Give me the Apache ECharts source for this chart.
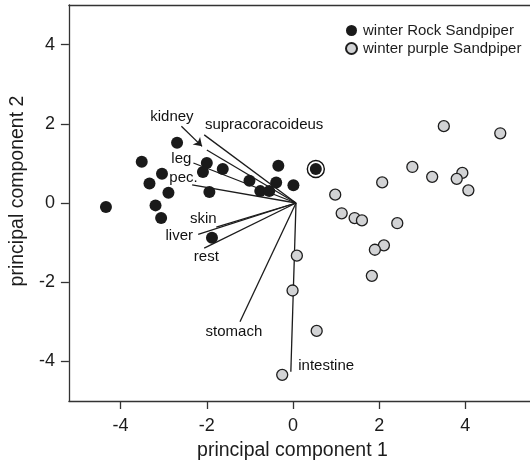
<!DOCTYPE html>
<html>
<head>
<meta charset="utf-8">
<script src="https://cdn.jsdelivr.net/npm/echarts@6/dist/echarts.min.js"></script>
<style>
html,body{margin:0;padding:0;background:#fff;}
#chart{width:530px;height:466px;}
</style>
</head>
<body>
<div id="chart"></div>
<script>
// ---- data ----
var xTicks = [-4, -2, 0, 2, 4];
var yTicks = [-4, -2, 0, 2, 4];

var rockSandpiper = [
  [-2.69, 1.52], [-3.51, 1.04], [-3.04, 0.74], [-3.33, 0.49], [-2.89, 0.26],
  [-4.34, -0.10], [-3.19, -0.06], [-3.06, -0.38], [-2.00, 1.01], [-2.09, 0.78],
  [-1.63, 0.86], [-1.94, 0.28], [-1.01, 0.56], [-0.76, 0.30], [-0.55, 0.30],
  [-0.34, 0.94], [-0.39, 0.52], [-1.88, -0.88], [0.01, 0.45], [0.53, 0.86]
];
var circledPoint = [[0.53, 0.86]];

var purpleSandpiper = [
  [3.50, 1.94], [4.81, 1.76], [2.77, 0.91], [3.23, 0.66], [3.93, 0.76],
  [3.80, 0.61], [4.07, 0.32], [2.07, 0.52], [0.98, 0.21], [1.13, -0.26],
  [1.43, -0.38], [1.60, -0.44], [2.42, -0.51], [2.11, -1.07], [1.90, -1.18],
  [1.83, -1.84], [0.09, -1.33], [-0.01, -2.21], [0.55, -3.23], [-0.25, -4.34]
];

var vectorOrigin = [0.07, 0];
var vectorNames = ['supracoracoideus', 'kidney', 'leg', 'pec.', 'skin', 'liver', 'rest', 'stomach', 'intestine'];
var vectorEnds = [
  [-2.06, 1.72], [-2.00, 1.34], [-2.31, 1.01], [-2.34, 0.46], [-1.78, -0.61],
  [-2.20, -0.79], [-2.06, -1.14], [-1.23, -3.00], [-0.05, -4.26]
];
var vectorLabelPos = [
  [-0.67, 1.97], [-2.81, 2.18], [-2.59, 1.11], [-2.54, 0.64], [-2.08, -0.40],
  [-2.64, -0.84], [-2.01, -1.37], [-1.37, -3.25], [0.77, -4.10]
];
var kidneyArrow = [[-2.59, 1.94], [-2.11, 1.43]];

// ---- chart ----
var font = '"Liberation Sans", Arial, Helvetica, sans-serif';
var ink = '#1c1c1c';
var chart = echarts.init(document.getElementById('chart'), null, {renderer: 'canvas'});

var vectorData = vectorEnds.map(function (e) { return {coords: [vectorOrigin, e]}; });
var labelData = vectorLabelPos.map(function (p, i) { return {name: vectorNames[i], value: p}; });

chart.setOption({
  animation: false,
  backgroundColor: '#ffffff',
  textStyle: {fontFamily: font},
  grid: {left: 68, right: 0, top: 5, bottom: 63, containLabel: false},
  legend: {
    orient: 'vertical',
    left: 340,
    top: 18,
    itemWidth: 11,
    itemHeight: 11,
    itemGap: 3,
    textStyle: {fontFamily: font, fontSize: 15, color: ink, padding: [0, 0, 0, 1]},
    data: ['winter Rock Sandpiper', 'winter purple Sandpiper']
  },
  xAxis: [{
    type: 'value', min: -5.2, max: 5.5, position: 'bottom',
    splitLine: {show: false},
    axisLine: {show: true, onZero: false, lineStyle: {color: '#333', width: 1.3}},
    axisTick: {show: true, length: 8, customValues: xTicks, lineStyle: {color: '#333', width: 1.3}},
    axisLabel: {show: true, customValues: xTicks, fontSize: 18, color: ink, margin: 16, fontFamily: font},
    name: 'principal component 1', nameLocation: 'middle', nameGap: 40,
    nameTextStyle: {fontSize: 19.5, color: ink, fontFamily: font, padding: [0, 14, 0, 0]}
  }, {
    type: 'value', min: -5.2, max: 5.5, position: 'top',
    splitLine: {show: false},
    axisLine: {show: true, onZero: false, lineStyle: {color: '#333', width: 1.3}},
    axisTick: {show: false}, axisLabel: {show: false}
  }],
  yAxis: [{
    type: 'value', min: -5, max: 5,
    splitLine: {show: false},
    axisLine: {show: true, onZero: false, lineStyle: {color: '#333', width: 1.3}},
    axisTick: {show: true, length: 8, customValues: yTicks, lineStyle: {color: '#333', width: 1.3}},
    axisLabel: {show: true, customValues: yTicks, fontSize: 18, color: ink, margin: 14, fontFamily: font},
    name: 'principal component 2', nameLocation: 'middle', nameGap: 22,
    nameTextStyle: {fontSize: 19.5, color: ink, fontFamily: font, padding: [0, 0, 0, 24]}
  }],
  series: [
    {
      type: 'lines', coordinateSystem: 'cartesian2d', silent: true, z: 2,
      lineStyle: {color: ink, width: 1.3, opacity: 1},
      symbol: ['none', 'none'],
      data: vectorData
    },
    {
      type: 'lines', coordinateSystem: 'cartesian2d', silent: true, z: 2,
      lineStyle: {color: ink, width: 1.3, opacity: 1},
      symbol: ['none', 'arrow'], symbolSize: 8,
      data: [{coords: kidneyArrow}]
    },
    {
      type: 'scatter', name: 'ring', silent: true, z: 3,
      symbol: 'circle', symbolSize: 17,
      itemStyle: {color: '#ffffff', borderColor: '#111', borderWidth: 1.4, opacity: 1},
      data: circledPoint
    },
    {
      type: 'scatter', name: 'winter Rock Sandpiper', z: 4,
      symbol: 'circle', symbolSize: 12,
      itemStyle: {color: '#1a1a1a', borderColor: '#1a1a1a', borderWidth: 0, opacity: 1},
      data: rockSandpiper
    },
    {
      type: 'scatter', name: 'winter purple Sandpiper', z: 4,
      symbol: 'circle', symbolSize: 11,
      itemStyle: {color: '#d2d3d5', borderColor: '#1e1e1e', borderWidth: 1.3, opacity: 1},
      data: purpleSandpiper
    },
    {
      type: 'scatter', name: 'labels', silent: true, z: 5,
      symbolSize: 0,
      itemStyle: {color: '#ffffff', opacity: 0},
      label: {show: true, position: 'inside', formatter: function (p) { return p.name; },
        fontSize: 15, color: '#111111', fontFamily: font, textBorderWidth: 0, opacity: 1},
      data: labelData
    }
  ]
});
</script>
</body>
</html>
